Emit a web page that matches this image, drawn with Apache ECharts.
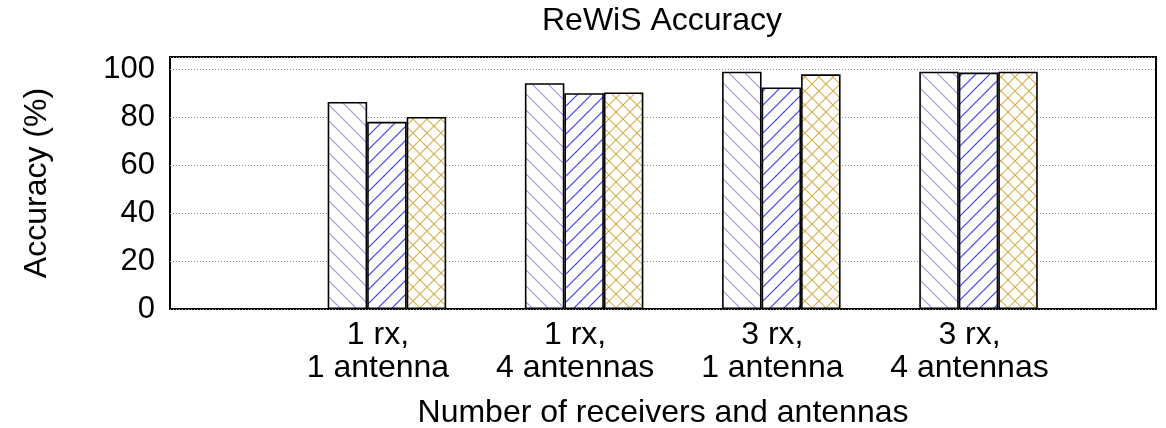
<!DOCTYPE html>
<html>
<head>
<meta charset="utf-8">
<script src="https://cdn.jsdelivr.net/npm/echarts@6/dist/echarts.min.js"></script>
<style>
html,body{margin:0;padding:0;background:#fff;}
#chart{width:1166px;height:428px;}
</style>
</head>
<body>
<div id="chart"></div>
<script>
// ---- data ----
const categories = ['1 rx,\n1 antenna', '1 rx,\n4 antennas', '3 rx,\n1 antenna', '3 rx,\n4 antennas'];
const seriesA = [86.3, 94.1, 98.9, 98.9];
const seriesB = [78.0, 89.9, 92.3, 98.5];
const seriesC = [80.0, 90.2, 97.8, 98.9];
const yTicks = [0, 20, 40, 60, 80, 100];

// ---- hatch patterns ----
function hatch(size, color, dirs) {
  const c = document.createElement('canvas');
  c.width = size; c.height = size;
  const g = c.getContext('2d');
  g.fillStyle = '#fff';
  g.fillRect(0, 0, size, size);
  g.strokeStyle = color;
  g.lineWidth = 1.2;
  for (const d of dirs) {
    for (let k = -1; k <= 1; k++) {
      g.beginPath();
      if (d === 'back') {
        g.moveTo(k * size - 1, -1);
        g.lineTo(k * size + size + 1, size + 1);
      } else {
        g.moveTo(k * size - 1, size + 1);
        g.lineTo(k * size + size + 1, -1);
      }
      g.stroke();
    }
  }
  return { image: c, repeat: 'repeat' };
}
const patA = hatch(16, '#ac94e2', ['back']);
const patB = hatch(14, '#3f3ff0', ['fwd']);
const patC = hatch(14, '#d6b255', ['back', 'fwd']);

const FONT = 'Liberation Sans';
const chart = echarts.init(document.getElementById('chart'));

function barSeries(vals, pat) {
  return {
    type: 'bar',
    data: vals.map((v, i) => [i, v]),
    barWidth: 39.5,
    barGap: '0%',
    itemStyle: { color: pat, borderColor: '#000', borderWidth: 1.6 },
    emphasis: { disabled: true },
    animation: false
  };
}

chart.setOption({
  backgroundColor: '#fff',
  animation: false,
  title: {
    text: 'ReWiS Accuracy',
    left: 657,
    top: 0,
    textAlign: 'center',
    textStyle: { fontFamily: FONT, fontSize: 32, fontWeight: 'normal', color: '#000' }
  },
  grid: {
    left: 170, right: 10, top: 57, bottom: 119,
    outerBoundsMode: 'none',
    containLabel: false,
    show: true, borderColor: '#000', borderWidth: 2, backgroundColor: 'transparent'
  },
  xAxis: {
    type: 'value',
    min: -1.1,
    max: 3.9,
    name: 'Number of receivers and antennas',
    nameLocation: 'middle',
    nameGap: 88,
    nameTextStyle: { fontFamily: FONT, fontSize: 32, color: '#000' },
    axisLine: { show: false },
    axisTick: { show: false },
    splitLine: { show: false },
    axisLabel: {
      customValues: categories.map((c, i) => i),
      formatter: v => categories[Math.round(v)] || '',
      fontFamily: FONT,
      fontSize: 32,
      lineHeight: 33,
      color: '#000',
      margin: 10,
      align: 'center',
      padding: [0, 18, 0, 0]
    }
  },
  yAxis: {
    type: 'value',
    min: 0,
    max: 105,
    interval: 20,
    name: 'Accuracy (%)',
    nameLocation: 'middle',
    nameGap: 117,
    nameTextStyle: { fontFamily: FONT, fontSize: 32, color: '#000' },
    axisLine: { show: false },
    axisTick: { show: false },
    axisLabel: {
      formatter: v => (yTicks.indexOf(v) >= 0 ? String(v) : ''),
      fontFamily: FONT,
      fontSize: 31,
      color: '#000',
      margin: 15
    },
    splitLine: { show: true, lineStyle: { color: '#8a8a8a', width: 1, type: [1, 2] } }
  },
  series: [
    barSeries(seriesA, patA),
    barSeries(seriesB, patB),
    barSeries(seriesC, patC)
  ]
});
</script>
</body>
</html>
